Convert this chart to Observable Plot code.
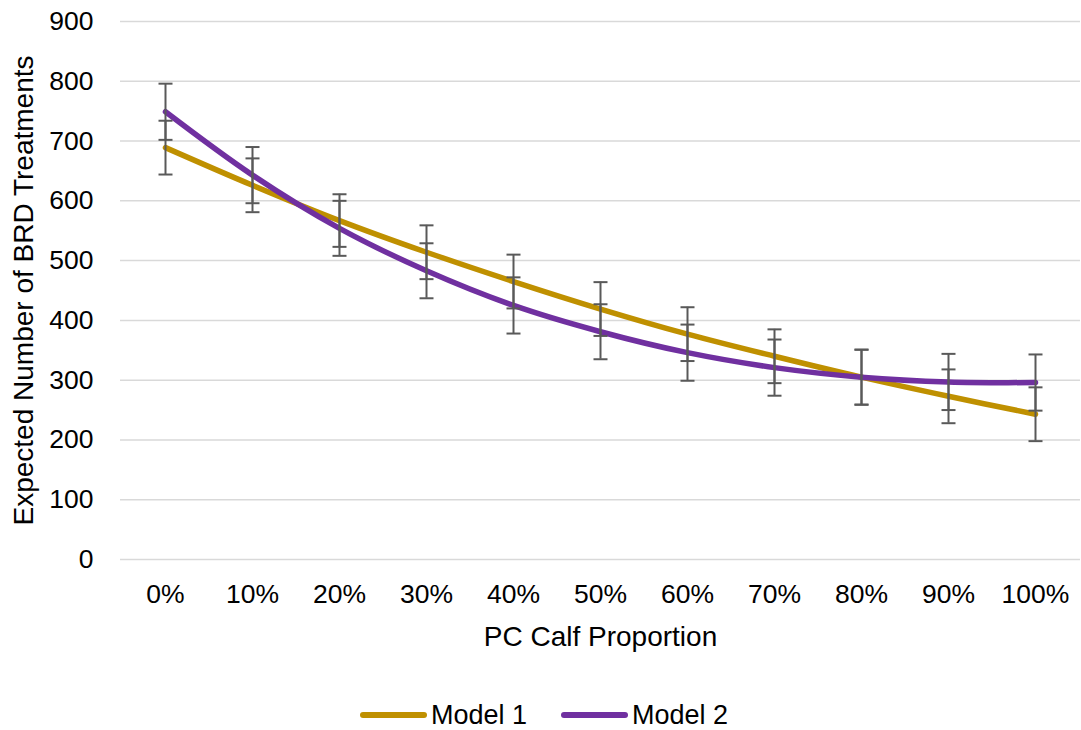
<!DOCTYPE html>
<html><head><meta charset="utf-8">
<script src="https://cdn.jsdelivr.net/npm/d3@7"></script>
<script src="https://cdn.jsdelivr.net/npm/@observablehq/plot@0.6"></script>
<style>
body{margin:0;background:#fff;font-family:"Liberation Sans",Arial,sans-serif;}
#chart{position:relative;width:1081px;height:730px;}
.legend{position:absolute;left:360px;top:700px;display:flex;align-items:center;font-size:27px;color:#000;line-height:30px;}
.item{display:flex;align-items:center;margin-right:34px;}
.sw{display:inline-block;width:67px;height:6px;border-radius:3px;margin-right:4px;}
</style></head><body><div id="chart"></div>
<script>
const categories = ["0%","10%","20%","30%","40%","50%","60%","70%","80%","90%","100%"];
const seriesNames = ["Model 1","Model 2"];
const seriesColors = ["#BF9000","#7030A0"];
const model1 = [689, 626, 567, 514, 465, 419, 377, 340, 305, 273, 243];
const model2 = [749, 643, 554, 483, 425, 381, 346, 321, 305, 297, 296];
const err1 = [45, 45, 44, 45, 45, 45, 45, 45, 46, 45, 45];
const err2 = [47, 47, 46, 46, 47, 46, 47, 47, 46, 47, 47];
const yTicks = [0,100,200,300,400,500,600,700,800,900];

const rows = [];
categories.forEach((c,i)=>{
  rows.push({cat:c, series:seriesNames[0], value:model1[i], err:err1[i]});
});
categories.forEach((c,i)=>{
  rows.push({cat:c, series:seriesNames[1], value:model2[i], err:err2[i]});
});

const capSymbol = {draw(ctx){ ctx.moveTo(-7,0); ctx.lineTo(7,0); }};

const plot = Plot.plot({
  width:1081, height:660,
  marginLeft:120, marginRight:1, marginTop:21, marginBottom:101,
  style:{fontFamily:"'Liberation Sans', Arial, sans-serif", fontSize:"26px", color:"#000", background:"#fff"},
  x:{type:"point", domain:categories, padding:0.47},
  y:{domain:[0,900]},
  color:{domain:seriesNames, range:seriesColors},
  marks:[
    Plot.gridY(yTicks, {stroke:"#d9d9d9", strokeOpacity:1, strokeWidth:1.5}),
    Plot.axisY(yTicks, {tickSize:0, tickPadding:27, fontSize:26.5, label:null}),
    Plot.axisY([], {tickSize:0, fontSize:28, label:"Expected Number of BRD Treatments", labelAnchor:"center", labelArrow:"none", labelOffset:107}),
    Plot.axisX({tickSize:0, tickPadding:25, fontSize:26.5, label:null}),
    Plot.axisX([], {tickSize:0, fontSize:28, label:"PC Calf Proportion", labelAnchor:"center", labelArrow:"none", labelOffset:86}),
    Plot.line(rows, {x:"cat", y:"value", z:"series", stroke:"series", strokeWidth:5.5, curve:"catmull-rom"}),
    Plot.ruleX(rows, {x:"cat", y1:d=>d.value-d.err, y2:d=>d.value+d.err, stroke:"#595959", strokeWidth:2}),
    Plot.dot(rows, {x:"cat", y:d=>d.value+d.err, symbol:capSymbol, stroke:"#595959", strokeWidth:2}),
    Plot.dot(rows, {x:"cat", y:d=>d.value-d.err, symbol:capSymbol, stroke:"#595959", strokeWidth:2})
  ]
});
const chart = document.getElementById("chart");
chart.appendChild(plot);
const legend = document.createElement("div");
legend.className = "legend";
seriesNames.forEach((n,i)=>{
  const it = document.createElement("div"); it.className="item";
  const sw = document.createElement("span"); sw.className="sw"; sw.style.background=seriesColors[i];
  const tx = document.createElement("span"); tx.textContent = n;
  it.appendChild(sw); it.appendChild(tx); legend.appendChild(it);
});
chart.appendChild(legend);
</script></body></html>
